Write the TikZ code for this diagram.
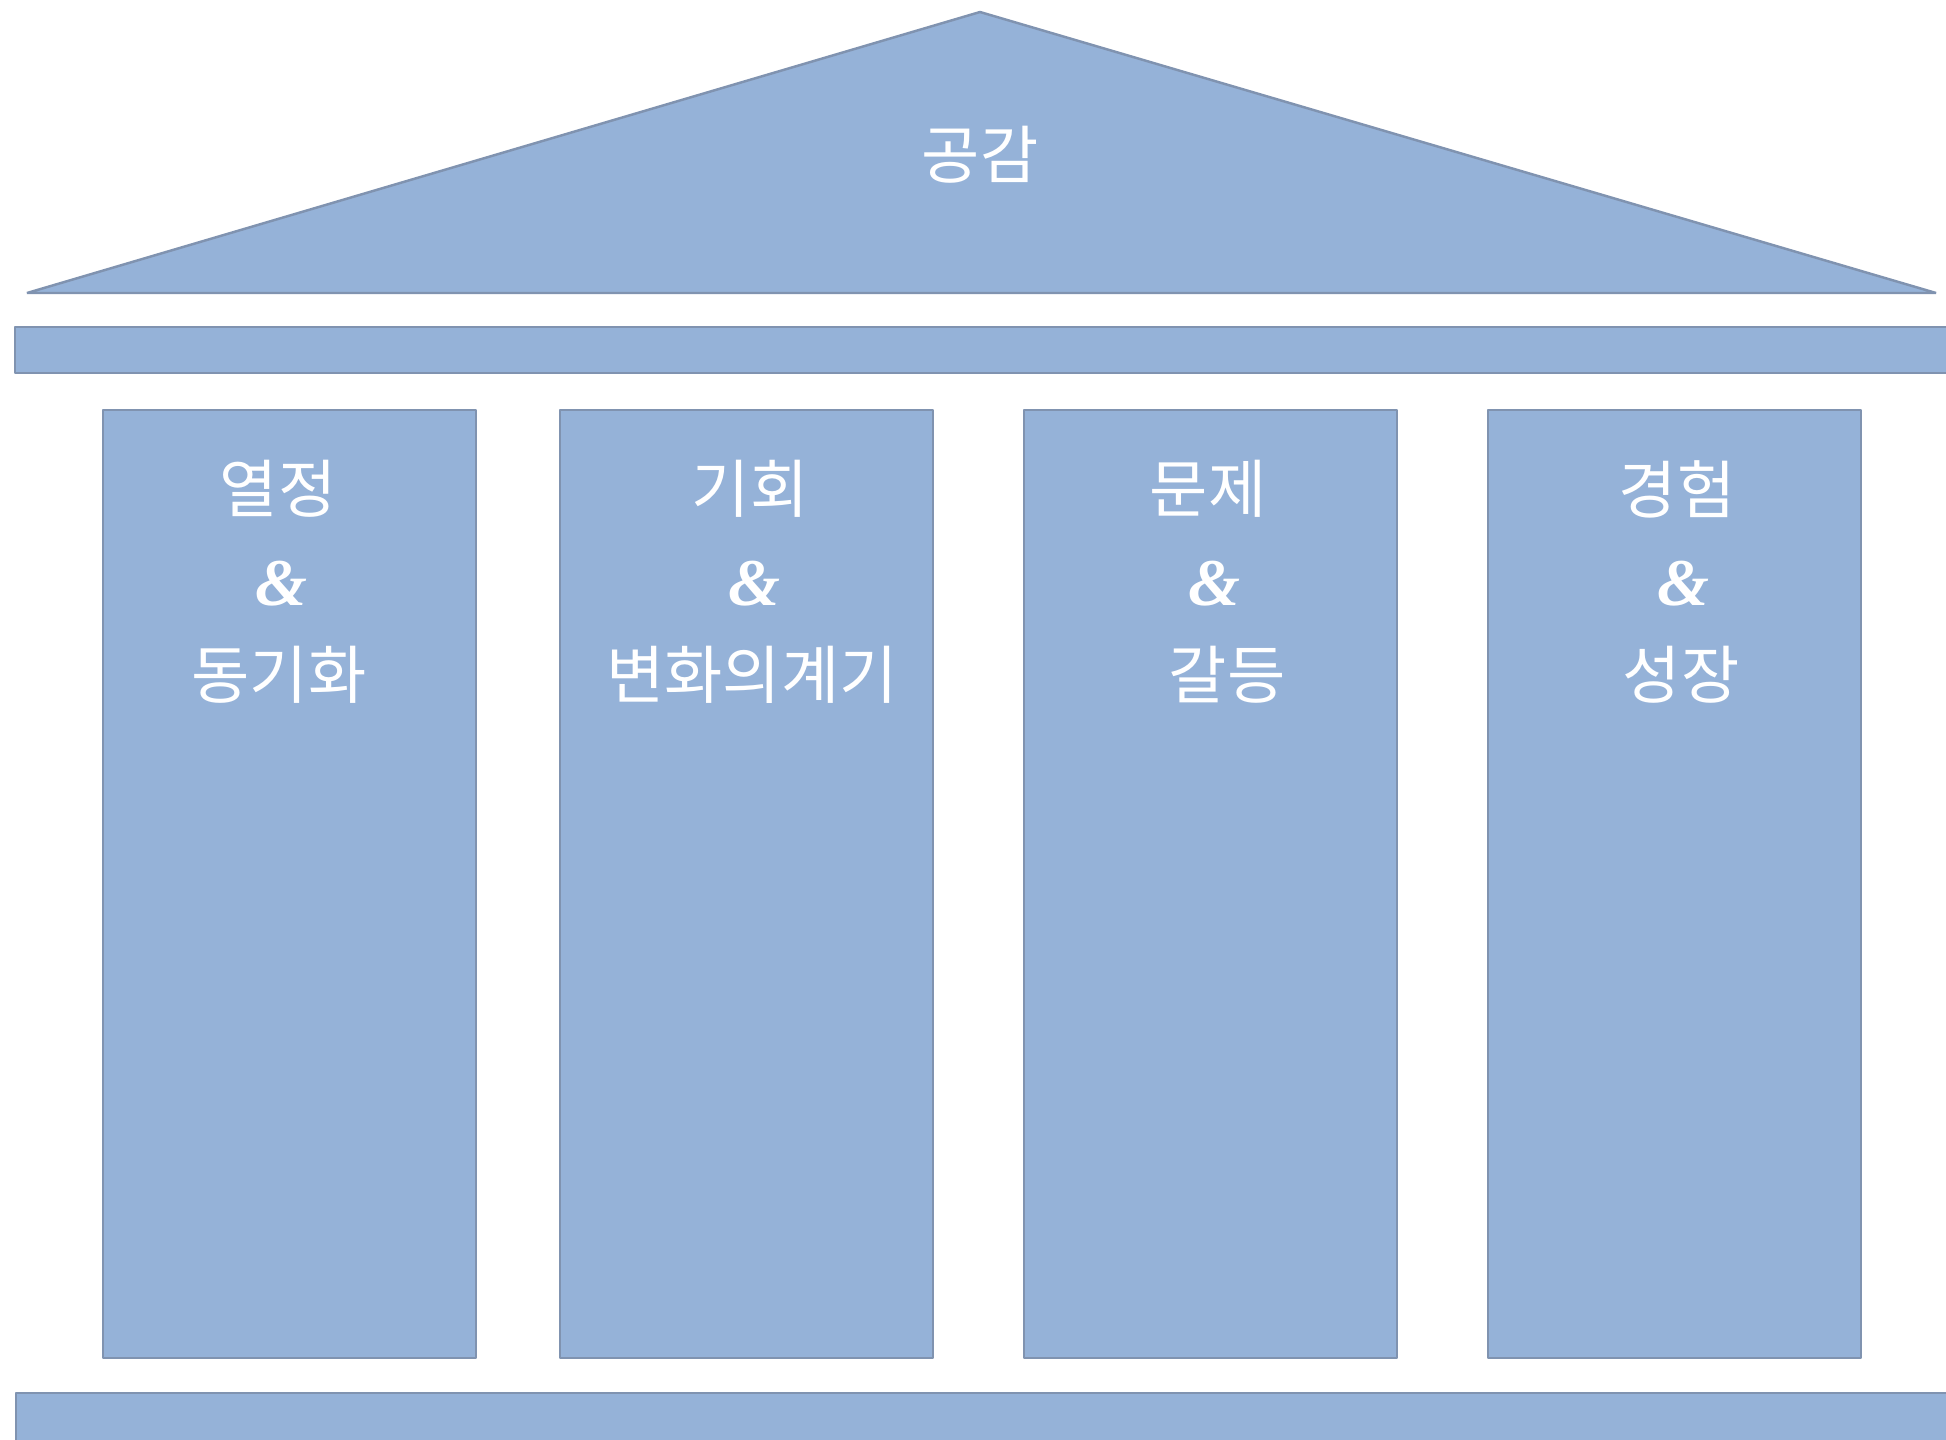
\documentclass[tikz,border=0pt]{standalone}
\usepackage{fontspec}
\newfontfamily\krfont{Noto Sans CJK KR}
\newfontfamily\ampfont{Liberation Serif}
\definecolor{pfill}{RGB}{149,178,216}
\definecolor{pline}{RGB}{128,147,176}
\tikzset{
  part/.style={fill=pfill, draw=pline, line width=0.7pt, line join=bevel},
  lbl/.style={text=white, inner sep=0pt, font=\krfont\fontsize{18}{21}\selectfont},
  amp/.style={text=white, inner sep=0pt, font=\ampfont\fontsize{19}{22}\selectfont\bfseries\itshape},
}
\begin{document}
\begin{tikzpicture}[x=0.01cm, y=-0.01cm]
\useasboundingbox (0,0) rectangle (1946,1439);
\clip (0,0) rectangle (1946,1439);
\fill[white] (0,0) rectangle (1946,1439);
% roof
\coordinate (apex) at (980,12);
\coordinate (bl) at (27,293);
\coordinate (br) at (1936,293);
\draw[part] (bl) -- (apex) -- (br) -- cycle;
% top beam
\draw[part] (15,327) rectangle (1952,373);
% columns
\draw[part] (103,410) rectangle (476,1358);
\draw[part] (560,410) rectangle (933,1358);
\draw[part] (1024,410) rectangle (1397,1358);
\draw[part] (1488,410) rectangle (1861,1358);
% base
\draw[part] (16,1393) rectangle (1952,1450);
% labels
\node[lbl] (roof) at (980,155) {공감};
\node[lbl] (c1a) at (278,489) {열정};
\node[amp] (c1b) at (281,584) {\&};
\node[lbl] (c1c) at (279,675) {동기화};
\node[lbl] (c2a) at (750,489) {기회};
\node[amp] (c2b) at (754,584) {\&};
\node[lbl] (c2c) at (752,675) {변화의계기};
\node[lbl] (c3a) at (1208,489) {문제};
\node[amp] (c3b) at (1214,584) {\&};
\node[lbl] (c3c) at (1227,675) {갈등};
\node[lbl] (c4a) at (1677,489) {경험};
\node[amp] (c4b) at (1683,584) {\&};
\node[lbl] (c4c) at (1681,675) {성장};
\end{tikzpicture}
\end{document}
